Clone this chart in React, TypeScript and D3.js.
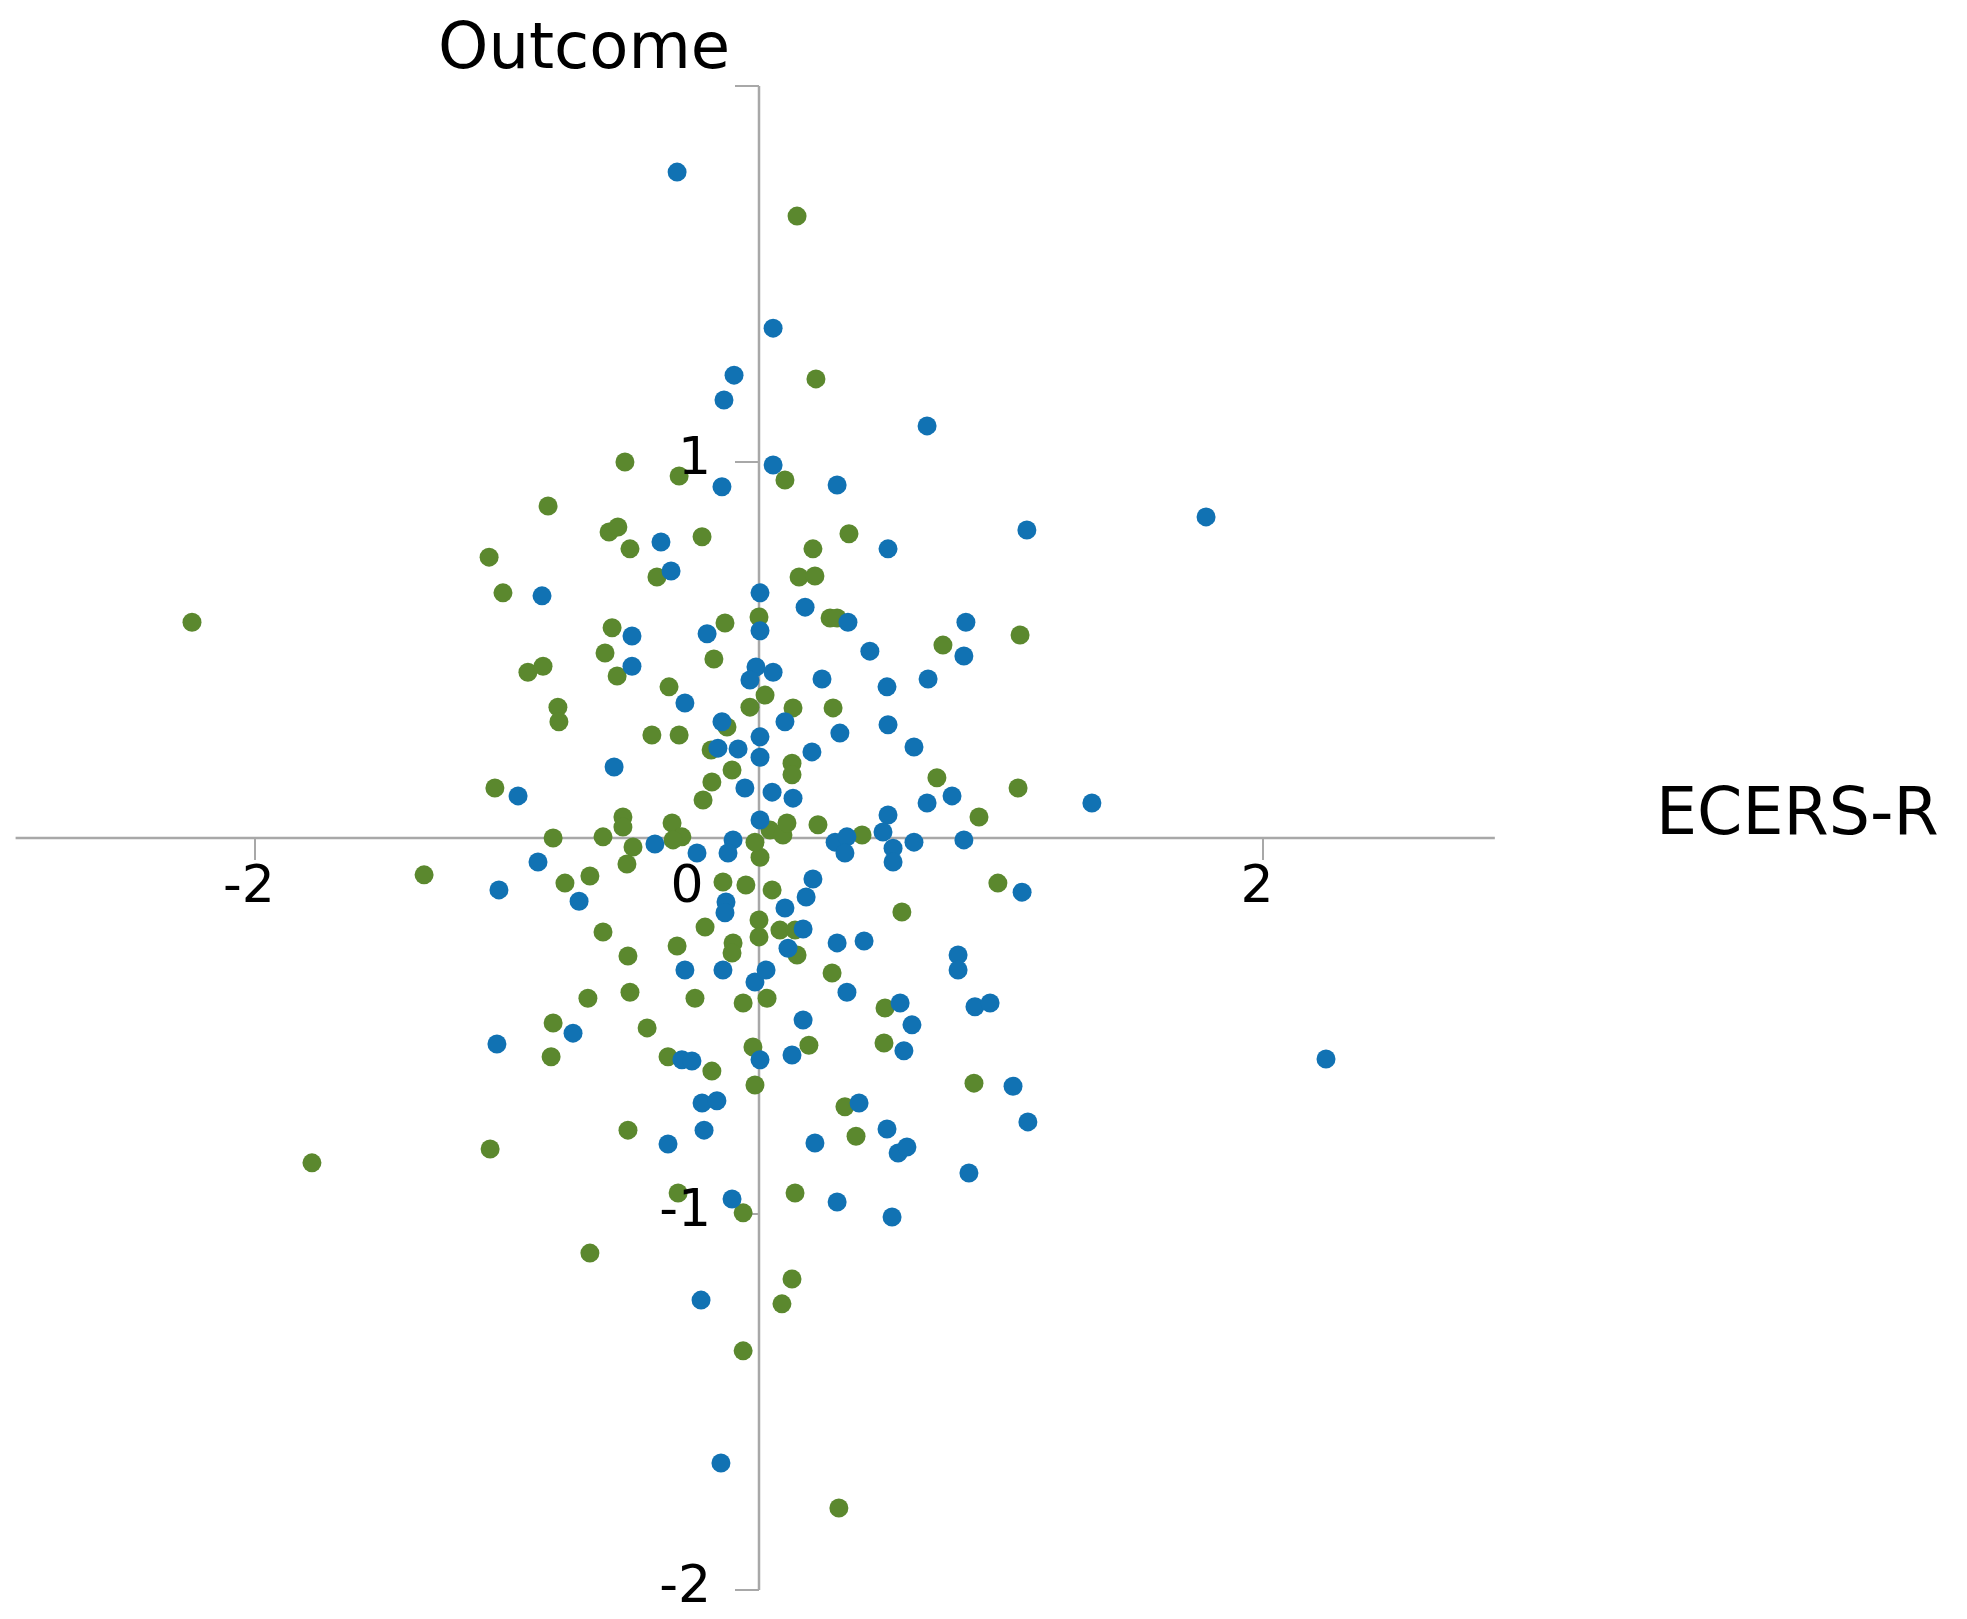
import React from 'react';
import * as d3 from 'd3';

// [ECERS-R, Outcome] pairs
const blueGroup: [number, number][] = [
  [-0.325, 1.771], [0.056, 1.356], [-0.099, 1.231], [-0.139, 1.165], [0.667, 1.096],
  [-0.147, 0.934], [0.056, 0.992], [0.31, 0.939], [1.774, 0.854], [1.063, 0.819],
  [-0.389, 0.787], [0.512, 0.769], [-0.349, 0.71], [-0.861, 0.644], [0.004, 0.652],
  [0.183, 0.614], [0.353, 0.574], [0.821, 0.574], [0.813, 0.484], [-0.504, 0.537],
  [-0.206, 0.543], [0.004, 0.551], [-0.504, 0.457], [-0.012, 0.455], [-0.036, 0.42],
  [0.056, 0.441], [0.25, 0.423], [0.508, 0.402], [0.671, 0.423], [0.44, 0.497],
  [-0.294, 0.359], [-0.147, 0.309], [0.103, 0.309], [0.321, 0.279], [0.512, 0.301],
  [-0.163, 0.239], [-0.083, 0.237], [0.004, 0.269], [0.004, 0.215], [-0.575, 0.189],
  [-0.056, 0.133], [-0.956, 0.112], [0.615, 0.242], [0.21, 0.229], [0.052, 0.122],
  [0.135, 0.106], [0.667, 0.093], [0.766, 0.112], [1.321, 0.093], [0.004, 0.048],
  [-0.413, -0.016], [-0.246, -0.04], [-0.103, -0.005], [-0.123, -0.04], [0.302, -0.011],
  [0.349, 0.003], [0.341, -0.04], [0.512, 0.061], [0.492, 0.016], [0.532, -0.027],
  [0.532, -0.064], [0.615, -0.011], [0.813, -0.005], [-0.877, -0.064], [-1.032, -0.138],
  [-0.714, -0.168], [-0.131, -0.17], [-0.135, -0.199], [0.214, -0.109], [0.187, -0.157],
  [0.103, -0.186], [1.044, -0.144], [0.175, -0.242], [0.115, -0.293], [0.31, -0.279],
  [0.417, -0.274], [0.79, -0.311], [0.79, -0.351], [-0.294, -0.351], [-0.143, -0.351],
  [-0.016, -0.383], [0.028, -0.351], [0.349, -0.41], [0.56, -0.439], [0.857, -0.449],
  [0.917, -0.439], [-0.738, -0.519], [-1.04, -0.548], [-0.306, -0.59], [-0.266, -0.593],
  [0.004, -0.59], [-0.226, -0.705], [-0.167, -0.699], [-0.218, -0.777], [-0.361, -0.814],
  [-0.107, -0.96], [-0.23, -1.229], [-0.151, -1.662], [0.175, -0.484], [0.607, -0.497],
  [0.131, -0.577], [0.575, -0.566], [1.008, -0.66], [1.067, -0.755], [0.397, -0.705],
  [0.508, -0.774], [0.552, -0.838], [0.587, -0.822], [0.222, -0.811], [0.833, -0.891],
  [0.31, -0.968], [0.528, -1.008], [2.25, -0.588],
];

const greenGroup: [number, number][] = [
  [0.151, 1.654], [0.226, 1.221], [-0.532, 1.0], [-0.317, 0.963], [0.103, 0.952],
  [-0.837, 0.883], [-0.595, 0.814], [-0.56, 0.827], [-0.512, 0.769], [-0.226, 0.801],
  [0.357, 0.809], [0.214, 0.769], [-1.071, 0.747], [-0.405, 0.694], [0.159, 0.694],
  [0.222, 0.697], [-1.016, 0.652], [-0.583, 0.559], [-0.135, 0.572], [0.0, 0.588],
  [0.282, 0.585], [0.31, 0.585], [1.036, 0.54], [0.73, 0.513], [-0.611, 0.492],
  [-0.563, 0.431], [-0.917, 0.441], [-0.857, 0.457], [-0.179, 0.476], [-0.357, 0.402],
  [-0.798, 0.348], [-0.794, 0.309], [-0.036, 0.348], [0.024, 0.38], [0.135, 0.346],
  [0.294, 0.346], [-0.425, 0.274], [-0.317, 0.274], [-0.127, 0.295], [-0.19, 0.234],
  [-0.187, 0.149], [-0.107, 0.181], [-0.222, 0.101], [-1.048, 0.133], [-0.54, 0.056],
  [-0.54, 0.029], [-0.817, 0.0], [-0.619, 0.003], [-0.5, -0.024], [-0.345, 0.04],
  [-0.306, 0.003], [-0.341, -0.005], [0.044, 0.021], [0.095, 0.008], [0.111, 0.04],
  [0.004, -0.051], [0.234, 0.035], [0.409, 0.008], [-0.524, -0.069], [-0.77, -0.12],
  [-0.671, -0.101], [-0.143, -0.117], [-0.052, -0.125], [0.0, -0.218], [0.0, -0.263],
  [-0.619, -0.25], [-0.214, -0.237], [-0.325, -0.287], [-0.103, -0.279], [-0.107, -0.306],
  [-0.52, -0.314], [-0.679, -0.426], [-0.512, -0.41], [-0.254, -0.426], [-0.063, -0.439],
  [0.032, -0.426], [0.131, 0.199], [0.131, 0.168], [0.706, 0.16], [1.028, 0.133],
  [0.873, 0.056], [0.052, -0.138], [0.948, -0.12], [0.567, -0.197], [0.083, -0.245],
  [0.143, -0.245], [0.151, -0.311], [0.29, -0.359], [0.5, -0.452], [-0.817, -0.492],
  [-0.825, -0.582], [-0.444, -0.505], [-0.361, -0.582], [-0.187, -0.62], [-0.024, -0.556],
  [-0.016, -0.657], [-0.52, -0.777], [-1.067, -0.827], [-0.321, -0.944], [-0.063, -0.997],
  [-0.671, -1.104], [0.198, -0.551], [0.496, -0.545], [0.853, -0.652], [0.341, -0.715],
  [0.385, -0.793], [0.143, -0.944], [0.131, -1.173], [0.091, -1.239], [-0.063, -1.364],
  [0.317, -1.782], [-2.25, 0.574], [-1.329, -0.098], [-1.774, -0.864], [-0.016, -0.011],
];

const xAxisExtent: [number, number] = [-2.95, 2.92];
const yAxisExtent: [number, number] = [-2, 2];
const xTicks = [-2, 2];
const yTicks = [2, 1, -1, -2];
const xTickLabels = [-2, 0, 2];
const yTickLabels = [1, -1, -2];

const W = 1967;
const H = 1619;
const BLUE = '#1172b3';
const GREEN = '#5b882e';
const AXIS = '#a8a8a8';
const FONT = '"DejaVu Sans", Verdana, sans-serif';

export default function App() {
  const x = d3.scaleLinear().domain([-2, 2]).range([255, 1263]);
  const y = d3.scaleLinear().domain([-2, 2]).range([1590, 86]);
  const x0 = x(0);
  const y0 = y(0);

  return (
    <div style={{ position: 'absolute', left: 0, top: 0 }}>
      <svg width={W} height={H} style={{ display: 'block', background: '#fff' }}>
        {/* axes */}
        <line x1={x(xAxisExtent[0])} x2={x(xAxisExtent[1])} y1={y0} y2={y0} stroke={AXIS} strokeWidth={2.5} />
        <line x1={x0} x2={x0} y1={y(yAxisExtent[1])} y2={y(yAxisExtent[0])} stroke={AXIS} strokeWidth={2.5} />
        {xTicks.map(t => (
          <line key={'xt' + t} x1={x(t)} x2={x(t)} y1={y0} y2={y0 + 22} stroke={AXIS} strokeWidth={2} />
        ))}
        {yTicks.map(t => (
          <line key={'yt' + t} x1={x0 - 24} x2={x0} y1={y(t)} y2={y(t)} stroke={AXIS} strokeWidth={2} />
        ))}

        {/* points */}
        {greenGroup.map((d, i) => (
          <circle key={'g' + i} cx={x(d[0])} cy={y(d[1])} r={9.5} fill={GREEN} />
        ))}
        {blueGroup.map((d, i) => (
          <circle key={'b' + i} cx={x(d[0])} cy={y(d[1])} r={9.5} fill={BLUE} />
        ))}

        {/* tick labels */}
        <g fontFamily={FONT} fontSize={52} fill="#000">
          {xTickLabels.map(t => (
            <text key={'xl' + t} x={t === 0 ? x0 - 72 : x(t) - 6} y={y0 + 64} textAnchor="middle">
              {t}
            </text>
          ))}
          {yTickLabels.map(t => (
            <text key={'yl' + t} x={x0 - 48} y={y(t) + 12} textAnchor="end">
              {t}
            </text>
          ))}
        </g>

        {/* axis titles */}
        <text x={438} y={68} fontFamily={FONT} fontSize={64} fill="#000">Outcome</text>
        <text x={1656} y={834} fontFamily={FONT} fontSize={65} fill="#000">ECERS-R</text>
      </svg>
    </div>
  );
}
